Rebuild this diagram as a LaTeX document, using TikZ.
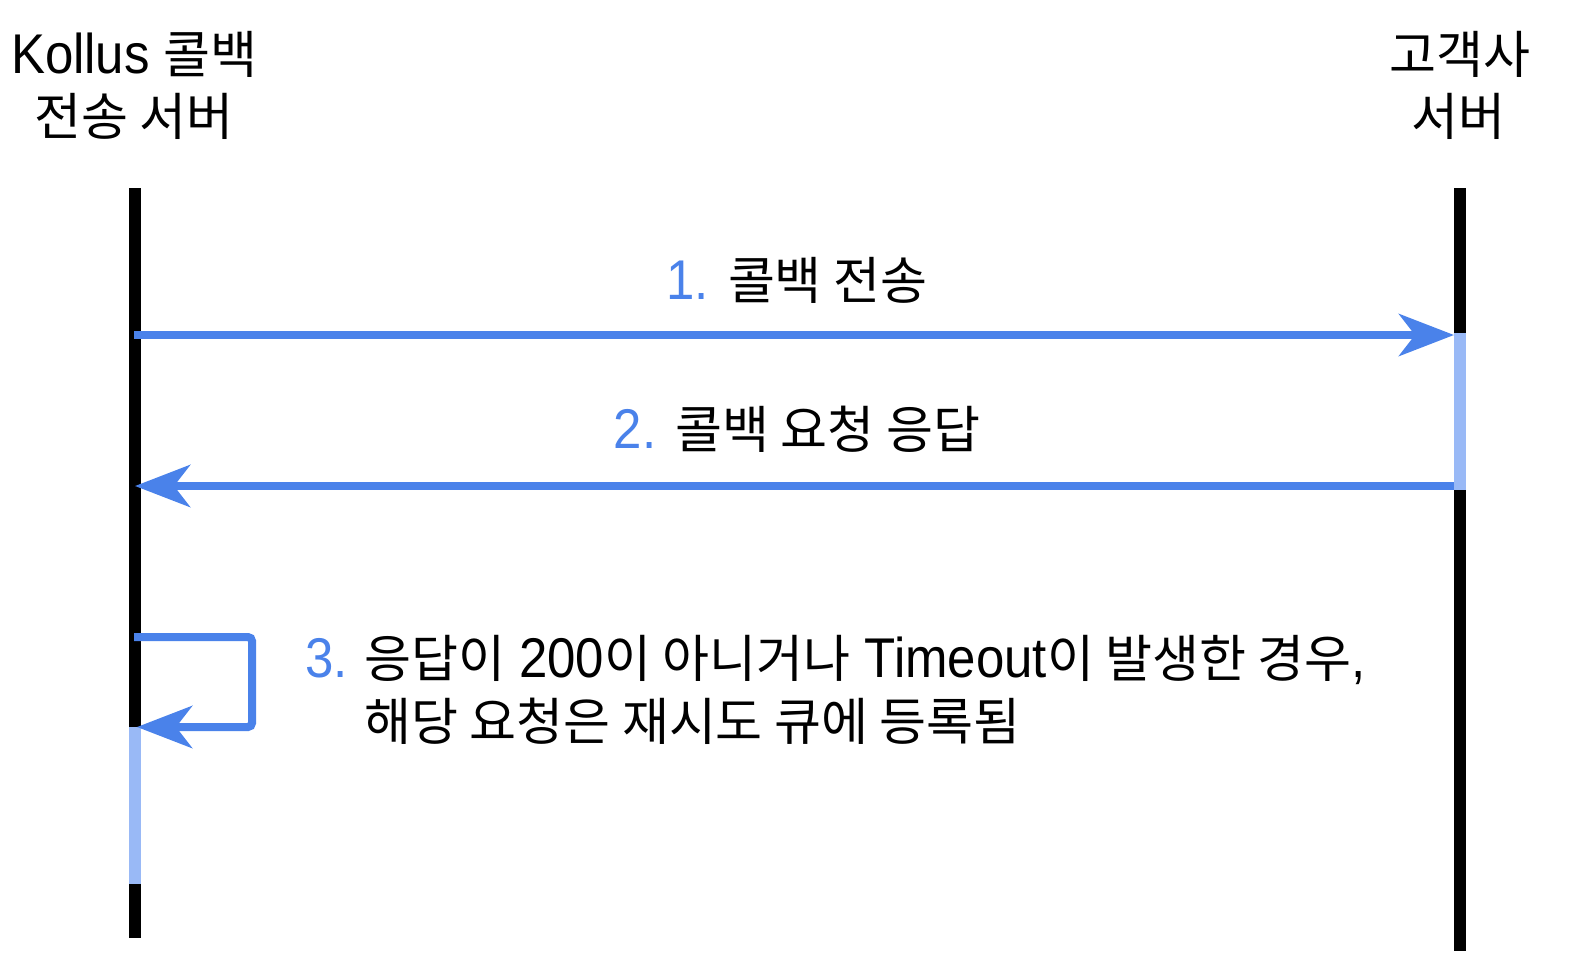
\documentclass[tikz,border=0pt]{standalone}
\usepackage{fontspec}
\setmainfont{Liberation Sans}[FakeStretch=0.91]
\newfontfamily\kr{Noto Sans CJK KR}[Scale=0.912]
\usetikzlibrary{arrows.meta}
\definecolor{msgblue}{HTML}{4A82EA}
\definecolor{actblue}{HTML}{99B9F6}
\begin{document}
\begin{tikzpicture}[x=1pt,y=-1pt,
  lifeline/.style={line width=12pt, draw=black},
  act/.style={fill=actblue, draw=none, inner sep=0pt, minimum width=12pt, minimum height=157pt, anchor=north},
  msg/.style={line width=8pt, draw=msgblue, -{Stealth[length=55pt,width=42pt,inset=16pt]}},
  lbl/.style={inner sep=0pt, font=\fontsize{56}{63}\selectfont},
  num/.style={text=msgblue}]
\path[use as bounding box] (0,0) rectangle (1584,978);
% lifelines
\coordinate (Ltop) at (135,188);
\coordinate (Lbot) at (135,938);
\coordinate (Rtop) at (1460,188);
\coordinate (Rbot) at (1460,951);
\draw[lifeline] (Ltop) -- (Lbot);
\draw[lifeline] (Rtop) -- (Rbot);
% activations
\node[act] (Ract) at (1460,333) {};
\node[act] (Lact) at (135,727) {};
% message end points
\coordinate (m1s) at (134,335);
\coordinate (m1e) at (1454,335);
\coordinate (m2s) at (1454,486);
\coordinate (m2e) at (135,486);
\coordinate (m3s) at (134,637);
\coordinate (m3c1) at (252,637);
\coordinate (m3c2) at (252,727);
\coordinate (m3e) at (137,727);
\draw[msg] (m1s) -- (m1e);
\draw[msg] (m2s) -- (m2e);
\draw[msg, rounded corners=4pt] (m3s) -- (m3c1) -- (m3c2) -- (m3e);
% titles
\node[lbl, anchor=base] (t1a) at (134.5,73) {Kollus {\kr 콜백}};
\node[lbl, anchor=base] (t1b) at (134,135) {\kr 전송 서버};
\node[lbl, anchor=base] (t2a) at (1460,73) {\kr 고객사};
\node[lbl, anchor=base] (t2b) at (1458,135) {\kr 서버};
% labels
\node[lbl, anchor=base] (l1) at (797,299) {\textcolor{msgblue}{1.} {\kr 콜백 전송}};
\node[lbl, anchor=base] (l2) at (797,448) {\textcolor{msgblue}{2.} {\kr 콜백 요청 응답}};
\node[lbl, num, anchor=base west] (l3n) at (305,677) {3.};
\node[lbl, anchor=base west] (l3a) at (364,677) {{\kr 응답이} 200{\kr 이 아니거나} Timeout{\kr 이 발생한 경우},};
\node[lbl, anchor=base west] (l3b) at (364,740) {\kr 해당 요청은 재시도 큐에 등록됨};
\end{tikzpicture}
\end{document}
